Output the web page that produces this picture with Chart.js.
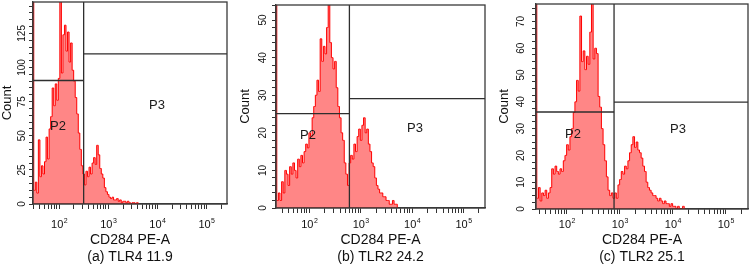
<!DOCTYPE html>
<html>
<head>
<meta charset="utf-8">
<script src="https://cdn.jsdelivr.net/npm/chart.js@4.4.1/dist/chart.umd.min.js"></script>
<style>
  html, body { margin: 0; padding: 0; background: #fff; }
  #wrap { position: relative; width: 751px; height: 266px; overflow: hidden; }
  canvas { position: absolute; top: 0; }
</style>
</head>
<body>
<div id="wrap">
  <canvas id="panel-a" width="238" height="266" style="left:0px"></canvas>
  <canvas id="panel-b" width="259" height="266" style="left:238px"></canvas>
  <canvas id="panel-c" width="254" height="266" style="left:497px"></canvas>
</div>
<script>
// histogram counts, one value per channel (32 channels per decade),
// the first channel sits on the axis minimum (off-scale pile-up)
const countsA = [400, 10, 16, 8, 47, 20, 28, 22, 31, 49, 33, 55, 64, 85, 72, 88, 76, 92, 160, 96,
  124, 131, 112, 126, 104, 118, 98, 90, 78, 66, 52, 40, 28, 22, 14, 24, 20, 27, 22, 30,
  34, 29, 43, 36, 26, 22, 19, 12, 9, 7, 5, 4, 5, 3, 3, 4, 2, 3, 1, 2,
  2, 1, 2, 1, 0, 1, 1, 0, 1, 0];
const countsB = [200, 2, 4, 2, 7, 4, 10, 9, 6, 11, 9, 12, 10, 8, 13, 11, 14, 12, 15, 17,
  16, 20, 19, 24, 27, 30, 34, 31, 45, 39, 43, 41, 48, 60, 44, 40, 37, 39, 32, 27,
  24, 20, 18, 12, 9, 6, 12, 14, 13, 17, 15, 19, 21, 18, 22, 24, 20, 21, 17, 15,
  12, 11, 8, 6, 5, 4, 4, 3, 3, 2, 2, 1, 1, 2, 1, 1, 0];
const countsC = [200, 4, 8, 3, 6, 5, 7, 4, 6, 8, 15, 13, 16, 14, 13, 15, 14, 18, 20, 24,
  22, 27, 30, 36, 40, 48, 44, 72, 55, 59, 52, 57, 54, 66, 90, 56, 60, 58, 42, 38,
  30, 24, 18, 12, 7, 5, 6, 4, 6, 4, 9, 11, 14, 13, 16, 15, 18, 21, 24, 27,
  23, 25, 22, 21, 19, 16, 14, 10, 8, 7, 6, 5, 5, 4, 3, 4, 3, 2, 3, 2,
  2, 1, 2, 1, 1, 0, 1, 0, 0, 1, 0];

const channelsPerDecade = 32;
const axisMins = [29.4, 22.5, 26.2];
const axisMax = 262144;
const yMaxes = [148, 54, 76.5];
const yMinorSteps = [5, 2, 2.5];

// gates: vertical split, P2 level (left), P3 level (right)
const gateX = [316, 603, 778];
const gateP2 = [90.5, 25.1, 36.2];
const gateP3 = [110, 29.1, 39.9];

const yTicksA = [0, 25, 50, 75, 100, 125];
const yTicksB = [0, 10, 20, 30, 40, 50];
const yTicksC = [0, 10, 20, 30, 40, 50, 60, 70];
const xTickValues = [1e2, 1e3, 1e4, 1e5];
const xTickLabels = ['10^2', '10^3', '10^4', '10^5'];
const captions = ['(a) TLR4 11.9', '(b) TLR2 24.2', '(c) TLR2 25.1'];
const xTitle = 'CD284 PE-A';
const yTitle = 'Count';
const gateNames = ['P2', 'P3'];

const FONT = '"Liberation Sans", Arial, Helvetica, sans-serif';

// layout of each panel (canvas-local pixels)
const panels = [
  { id: 'panel-a', counts: countsA, yTicks: yTicksA, box: { left: 33, top: 2, right: 227, bottom: 204 },
    yLabelX: 22.7, countX: 7.5, p2: [58, 126], p3: [157, 105] },
  { id: 'panel-b', counts: countsB, yTicks: yTicksB, box: { left: 38, top: 5, right: 247, bottom: 208 },
    yLabelX: 25.3, countX: 7, p2: [70, 135], p3: [177, 128] },
  { id: 'panel-c', counts: countsC, yTicks: yTicksC, box: { left: 39, top: 4, right: 251, bottom: 209 },
    yLabelX: 24.7, countX: 7, p2: [76, 134], p3: [181, 129] }
];

function minorLogTicks(min, max) {
  const ticks = [];
  for (let d = 1; d <= 5; d++) {
    for (let m = 1; m <= 9; m++) {
      const v = m * Math.pow(10, d);
      if (v >= min && v <= max) ticks.push({ value: v });
    }
  }
  return ticks;
}

const panelText = {
  id: 'panelText',
  afterDraw(chart, args, opts) {
    const ctx = chart.ctx;
    const a = chart.chartArea;
    const xs = chart.scales.x;
    const ys = chart.scales.y;
    ctx.save();
    ctx.strokeStyle = '#3a3a3a';
    ctx.lineWidth = 1.3;
    ctx.strokeRect(a.left, a.top, a.right - a.left, a.bottom - a.top);

    ctx.fillStyle = '#111';
    ctx.textBaseline = 'middle';

    // y tick labels, rotated
    ctx.font = '10px ' + FONT;
    ctx.textAlign = 'center';
    opts.yTicks.forEach(v => {
      ctx.save();
      ctx.translate(opts.yLabelX, ys.getPixelForValue(v));
      ctx.rotate(-Math.PI / 2);
      ctx.fillText(String(v), 0, 0);
      ctx.restore();
    });

    // x tick labels 10^n
    ctx.textAlign = 'left';
    xTickValues.forEach((v, i) => {
      const parts = xTickLabels[i].split('^');
      ctx.font = '11px ' + FONT;
      const wb = ctx.measureText(parts[0]).width;
      ctx.font = '7px ' + FONT;
      const we = ctx.measureText(parts[1]).width;
      const x0 = xs.getPixelForValue(v) - (wb + we) / 2;
      ctx.font = '11px ' + FONT;
      ctx.fillText(parts[0], x0, 225);
      ctx.font = '7px ' + FONT;
      ctx.fillText(parts[1], x0 + wb + 0.5, 221);
    });

    // axis titles and caption
    const cx = (a.left + a.right) / 2;
    ctx.textAlign = 'center';
    ctx.font = '14px ' + FONT;
    ctx.fillText(xTitle, cx, 240);
    ctx.fillText(opts.caption, cx, 257);

    ctx.font = '13px ' + FONT;
    ctx.save();
    ctx.translate(opts.countX, (a.top + a.bottom) / 2);
    ctx.rotate(-Math.PI / 2);
    ctx.fillText(yTitle, 0, 0);
    ctx.restore();

    // gate names
    ctx.fillStyle = '#1a1a1a';
    ctx.fillText(gateNames[0], opts.p2[0], opts.p2[1]);
    ctx.fillText(gateNames[1], opts.p3[0], opts.p3[1]);
    ctx.restore();
  }
};

function buildPanel(p, k) {
  const min = axisMins[k];
  const yMax = yMaxes[k];
  const logMin = Math.log10(min);
  const hist = p.counts.map((c, i) => ({ x: Math.pow(10, logMin + i / channelsPerDecade), y: c }));
  const gateStyle = { borderColor: '#2e2e2e', borderWidth: 1.3, pointRadius: 0, fill: false, order: 0 };
  const canvas = document.getElementById(p.id);
  const W = canvas.width, H = canvas.height;

  new Chart(canvas, {
    type: 'line',
    data: {
      datasets: [
        Object.assign({ data: [{ x: gateX[k], y: 0 }, { x: gateX[k], y: yMax }] }, gateStyle),
        Object.assign({ data: [{ x: min, y: gateP2[k] }, { x: gateX[k], y: gateP2[k] }] }, gateStyle),
        Object.assign({ data: [{ x: gateX[k], y: gateP3[k] }, { x: axisMax, y: gateP3[k] }] }, gateStyle),
        {
          data: hist,
          stepped: 'middle',
          borderColor: '#ff0000',
          borderWidth: 1,
          backgroundColor: 'rgba(255, 60, 60, 0.62)',
          fill: 'origin',
          pointRadius: 0,
          order: 1
        }
      ]
    },
    options: {
      responsive: false,
      animation: false,
      events: [],
      layout: { padding: { left: p.box.left, top: p.box.top, right: W - p.box.right, bottom: H - p.box.bottom } },
      plugins: {
        legend: { display: false },
        tooltip: { enabled: false },
        panelText: { yTicks: p.yTicks, yLabelX: p.yLabelX, countX: p.countX, caption: captions[k], p2: p.p2, p3: p.p3 }
      },
      scales: {
        x: {
          type: 'logarithmic',
          min: min,
          max: axisMax,
          afterBuildTicks: s => { s.ticks = minorLogTicks(min, axisMax); },
          afterFit: s => { s.height = 0; },
          ticks: { display: false },
          grid: { drawOnChartArea: false, drawTicks: true, tickLength: 5, color: '#333', lineWidth: 1 },
          border: { display: true, color: '#3a3a3a', width: 1.3 }
        },
        y: {
          min: 0,
          max: yMax,
          afterFit: s => { s.width = 0; },
          ticks: { display: false, stepSize: yMinorSteps[k], includeBounds: false },
          grid: { drawOnChartArea: false, drawTicks: true, tickLength: 4, color: '#333', lineWidth: 1 },
          border: { display: true, color: '#3a3a3a', width: 1.3 }
        }
      }
    },
    plugins: [panelText]
  });
}

panels.forEach(buildPanel);
</script>
</body>
</html>
